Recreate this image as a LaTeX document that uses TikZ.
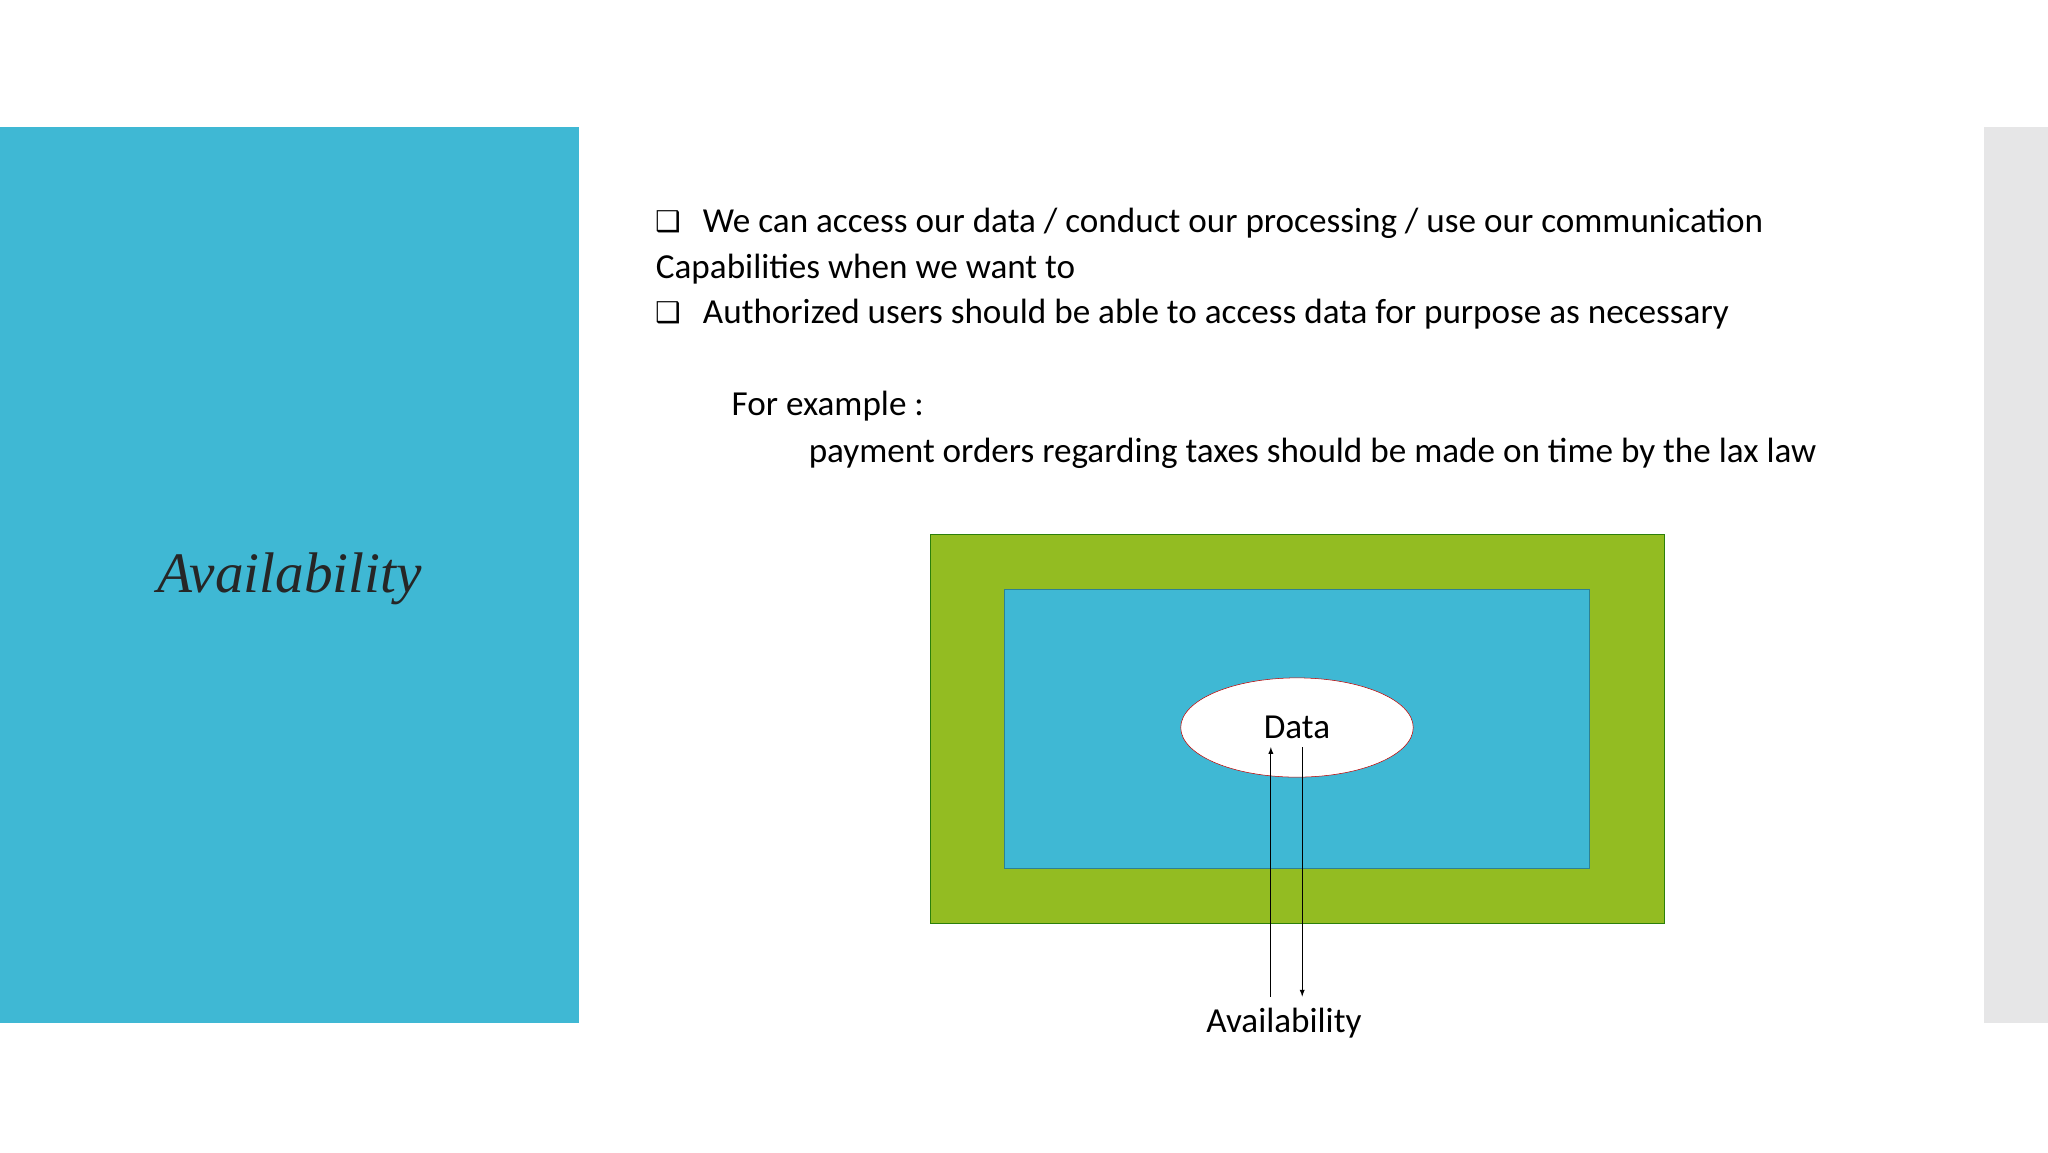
\documentclass[tikz,border=0pt]{standalone}
\usepackage{fontspec}
\usetikzlibrary{shapes.geometric}
\setmainfont{Carlito}
\newfontfamily\dejav{DejaVu Sans}
\newfontfamily\serifit{Liberation Serif}
\definecolor{cyanp}{HTML}{3FB8D4}
\definecolor{grayp}{HTML}{E6E6E7}
\definecolor{greenp}{HTML}{93BC22}
\begin{document}
\begin{tikzpicture}[x=1bp,y=-1bp,
  body/.style={anchor=base west,inner sep=0,font=\fontsize{27}{32}\selectfont},
  bul/.style={anchor=base west,inner sep=0,font=\dejav\fontsize{22}{26}\selectfont},
  arr/.style={-latex,thick}]
\useasboundingbox (0,0) rectangle (1568,882);
\fill[cyanp] (0,97) rectangle (443,783);
\fill[grayp] (1519,97) rectangle (1568,783);
\node[font=\serifit\itshape\fontsize{44}{50}\selectfont,text=black!85] (title) at (222,443) {Availability};
\node[bul] (b1) at (502,177) {❑};
\node[body] (l1) at (538,178) {We can access our data / conduct our processing / use our communication};
\node[body] (l2) at (502,213) {Capabilities when we want to};
\node[bul] (b2) at (502,247) {❑};
\node[body] (l3) at (538,248) {Authorized users should be able to access data for purpose as necessary};
\node[body] (l4) at (560,318) {For example :};
\node[body] (l5) at (619,354) {payment orders regarding taxes should be made on time by the lax law};
\node[draw=green!40!black!70!greenp,fill=greenp,minimum width=562bp,minimum height=298bp,inner sep=0] (outer) at (993,558) {};
\node[draw=cyanp!70!black,fill=cyanp,minimum width=448bp,minimum height=214bp,inner sep=0] (inner) at (993,558) {};
\node[ellipse,draw=red!75!black,fill=white,minimum width=178bp,minimum height=76bp,inner sep=0,font=\fontsize{27}{32}\selectfont] (data) at (993,557) {Data};
\node[font=\fontsize{27}{32}\selectfont] (av) at (983,783) {Availability};
\coordinate (a1) at (973,763); \coordinate (a2) at (973,572);
\coordinate (d1) at (997,572); \coordinate (d2) at (997,763);
\draw[arr] (a1) -- (a2);
\draw[arr] (d1) -- (d2);
\end{tikzpicture}
\end{document}
